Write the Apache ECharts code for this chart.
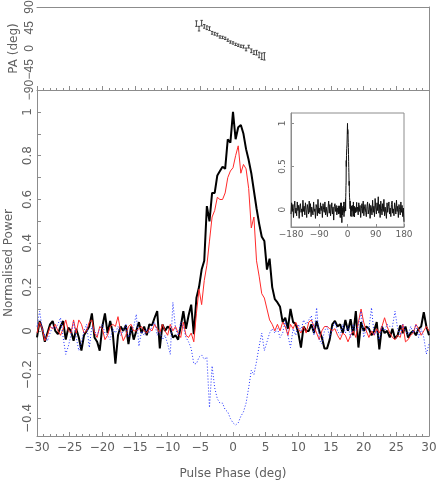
<!DOCTYPE html>
<html><head><meta charset="utf-8">
<script src="https://cdn.jsdelivr.net/npm/echarts@6/dist/echarts.min.js"></script>
<style>html,body{margin:0;padding:0;background:#fff}#c{width:436px;height:480px}</style>
</head><body><div id="c"></div>
<script>
// ---- data ----
const phaseStart = -30, phaseStep = 0.4;
const totalPower = [
 -0.03,0.045,0.01,-0.05,-0.01,0.03,0.045,0.0,-0.015,0.02,
 0.045,-0.04,0.015,0.0,-0.045,0.01,-0.03,-0.09,-0.02,0.0,
 0.02,0.08,-0.03,-0.05,-0.09,0.02,0.08,-0.01,0.045,-0.01,
 -0.15,-0.02,0.02,0.0,0.025,-0.06,0.02,-0.04,0.0,0.04,
 -0.01,0.02,-0.02,0.03,0.025,0.06,0.09,-0.08,0.03,0.0,
 0.02,0.01,-0.03,-0.02,-0.04,0.02,0.09,0.01,0.07,0.12,
 -0.015,0.15,0.2,0.28,0.32,0.57,0.5,0.63,0.63,0.71,
 0.73,0.75,0.74,0.875,0.86,1.0,0.875,0.93,0.94,0.9,
 0.83,0.78,0.72,0.64,0.56,0.49,0.43,0.41,0.28,0.33,
 0.2,0.145,0.13,0.11,0.04,0.06,0.01,0.1,0.04,0.03,
 -0.01,-0.076,0.02,0.0,0.0,0.03,-0.01,0.045,0.0,-0.03,
 -0.08,-0.08,-0.04,0.03,0.046,0.02,0.03,-0.01,0.05,0.0,
 0.053,-0.02,0.09,-0.076,0.04,0.0,0.02,0.01,-0.02,0.0,
 0.04,-0.084,0.02,-0.01,0.0,-0.03,0.01,-0.035,-0.02,0.025,
 -0.01,0.02,-0.03,-0.01,0.0,-0.02,0.01,0.02,0.085,0.02,
 -0.02];
const linearPol = [
 -0.01,0.04,0.01,-0.045,-0.02,0.02,0.01,0.03,0.0,-0.02,
 0.01,0.05,0.0,-0.01,0.05,-0.01,0.05,0.03,-0.01,0.0,
 0.04,0.05,-0.01,-0.03,0.02,0.01,-0.04,-0.02,0.02,0.03,
 0.02,0.065,0.0,-0.045,-0.02,0.02,0.03,0.0,0.0,0.01,
 0.02,0.0,-0.01,0.01,0.0,0.03,0.01,-0.01,0.03,0.0,
 -0.02,0.03,0.0,0.02,-0.01,-0.03,0.04,-0.02,-0.03,-0.01,
 -0.05,0.08,0.19,0.12,0.23,0.3,0.41,0.52,0.55,0.61,
 0.6,0.6,0.63,0.7,0.73,0.745,0.8,0.845,0.72,0.76,
 0.74,0.65,0.47,0.52,0.32,0.25,0.17,0.15,0.1,0.05,
 0.03,0.0,0.03,0.0,0.04,0.02,-0.02,0.03,0.01,0.04,
 0.01,-0.01,0.02,-0.01,0.04,0.05,0.02,-0.01,-0.04,0.0,
 0.02,0.02,0.01,0.0,0.01,-0.02,-0.04,-0.01,-0.02,-0.05,
 -0.02,0.0,-0.03,0.04,0.1,0.04,0.0,-0.03,0.0,-0.02,
 0.01,-0.01,0.02,0.06,0.02,-0.01,-0.03,-0.04,-0.02,-0.03,
 0.03,-0.05,-0.04,-0.02,-0.01,0.03,0.01,-0.02,0.0,0.02,
 0.0];
const circularPol = [
 0.02,0.09,0.01,-0.02,-0.046,-0.01,0.02,0.01,0.03,0.06,
 -0.03,-0.107,-0.07,-0.02,0.04,-0.03,-0.09,-0.05,0.0,0.03,
 -0.076,0.02,0.0,-0.02,0.01,0.03,-0.01,-0.02,-0.04,0.01,
 -0.01,0.02,-0.02,0.0,0.03,-0.03,0.0,0.02,0.076,-0.07,
 0.0,-0.02,0.01,-0.01,0.02,0.04,-0.02,0.0,-0.04,-0.02,
 -0.06,-0.107,0.13,0.01,-0.02,0.04,0.02,-0.03,-0.05,-0.08,
 -0.15,-0.15,-0.12,-0.11,-0.13,-0.12,-0.35,-0.16,-0.26,-0.31,
 -0.33,-0.33,-0.36,-0.37,-0.4,-0.42,-0.43,-0.42,-0.39,-0.37,
 -0.33,-0.26,-0.18,-0.2,-0.14,-0.07,-0.01,-0.09,-0.05,-0.01,
 0.01,-0.01,0.01,-0.03,-0.01,0.046,-0.02,-0.076,0.01,-0.02,
 0.03,0.0,0.05,0.03,0.05,0.07,-0.02,0.106,-0.04,-0.06,
 0.0,0.02,-0.03,0.01,0.04,0.0,-0.02,0.03,-0.01,0.02,
 -0.03,0.03,0.0,0.02,0.09,-0.03,0.01,0.01,0.106,-0.02,
 0.0,-0.04,0.02,0.0,0.03,0.02,0.02,0.09,0.01,-0.02,
 0.03,0.0,-0.02,0.02,-0.01,0.03,-0.03,0.01,-0.03,-0.106,
 -0.06];
const paStart = -5.6;
const paValues = [54,43,55,48,45,43,34,32,30,25,24,22,18,14,12,9,7,5,4,-2,4,-5,-9,-9,-14,-17,-17];
const paErrors = [6,5,6,4,4,4,3,3,3,2.5,2.5,2.5,2.5,2.5,2.5,2.5,2.5,2.5,3,3,3,4,4,5,6,7,8];
const insetStep = 2, insetLeftStart = -180, insetRightStart = 32;
const insetLeftNoise = [-0.05,0.08,-0.02,0.06,-0.09,0.03,0.1,-0.04,0.02,-0.07,
 0.09,-0.01,0.05,-0.1,0.04,0.07,-0.03,0.01,-0.08,0.11,
 -0.02,0.04,-0.06,0.08,0.0,-0.09,0.06,0.02,-0.05,0.1,
 -0.03,0.07,-0.08,0.03,0.05,-0.06,0.09,-0.02,0.01,-0.1,
 0.06,0.03,-0.07,0.12,-0.04,0.02,-0.05,0.08,-0.01,0.04,
 -0.09,0.07,0.0,-0.03,0.09,-0.06,0.03,0.05,-0.08,0.02,
 0.1,-0.04,0.06,-0.07,0.01,0.08,-0.05,0.03,-0.12,0.04,
 0.07,-0.02,0.05,-0.06,0.02];
const insetRightNoise = [0.03,-0.06,0.08,-0.02,0.05,-0.09,0.01,0.07,-0.04,0.1,
 -0.07,0.02,0.06,-0.03,-0.08,0.04,0.09,-0.05,0.0,0.07,
 -0.1,0.05,0.02,-0.06,0.11,-0.03,0.04,-0.08,0.13,0.02,
 -0.05,0.08,-0.01,0.15,-0.04,0.06,-0.09,0.1,0.01,-0.06,
 0.07,-0.02,0.12,-0.07,0.03,0.05,-0.1,0.08,-0.03,0.04,
 0.09,-0.05,0.02,-0.08,0.06,0.1,-0.04,0.01,-0.07,0.08,
 0.03,-0.05,0.11,-0.02,0.04,-0.09,0.06,0.0,-0.06,0.09,
 -0.03,0.05,-0.08,0.02,-0.14];
const paLabels = [-90,-45,0,45,90];
const mainYLabels = [-0.4,-0.2,0,0.2,0.4,0.6,0.8,1];
const mainYTicks = [-0.4,-0.3,-0.2,-0.1,0,0.1,0.2,0.3,0.4,0.5,0.6,0.7,0.8,0.9,1];
const insetYLabels = [0,0.5,1];

// ---- build ----
const withPhase = arr => arr.map((v, i) => [+(phaseStart + i * phaseStep).toFixed(2), v]);
const insetData = []
  .concat(insetLeftNoise.map((v, i) => [insetLeftStart + i * insetStep, v]))
  .concat(withPhase(totalPower))
  .concat(insetRightNoise.map((v, i) => [insetRightStart + i * insetStep, v]));
const paData = paValues.map((v, i) => [+(paStart + i * phaseStep).toFixed(2), v, paErrors[i]]);

const FONT = 'DejaVu Sans';
const TXT = '#606060';
const LINE = '#8c8c8c';
const fmt = v => String(v).replace('-', '\u2212');
const lineAx = { show: true, onZero: false, lineStyle: { color: LINE, width: 1 } };
const noLine = { show: false, onZero: false };

const chart = echarts.init(document.getElementById('c'), null, { renderer: 'canvas' });
chart.setOption({
  animation: false,
  backgroundColor: '#fff',
  grid: [
    { left: 37, right: 7, top: 7, height: 83, outerBoundsMode: 'none', containLabel: false },
    { left: 37, right: 7, top: 90, bottom: 44, outerBoundsMode: 'none', containLabel: false },
    { left: 291, width: 113, top: 113, height: 114, outerBoundsMode: 'none', containLabel: false,
      show: true, backgroundColor: '#fff', borderColor: LINE, borderWidth: 1 }
  ],
  xAxis: [
    { gridIndex: 0, type: 'value', position: 'bottom', min: -30, max: 30, interval: 5,
      axisLine: lineAx, axisTick: { show: true, inside: true, length: 4, lineStyle: { color: LINE } },
      minorTick: { show: true, splitNumber: 5, length: 2, lineStyle: { color: LINE } },
      axisLabel: { show: false }, splitLine: { show: false } },
    { gridIndex: 0, type: 'value', position: 'top', min: -30, max: 30, interval: 5,
      axisLine: lineAx, axisTick: { show: false }, axisLabel: { show: false }, splitLine: { show: false } },
    { gridIndex: 1, type: 'value', position: 'bottom', min: -30, max: 30, interval: 5,
      axisLine: lineAx, axisTick: { show: true, inside: true, length: 4, lineStyle: { color: LINE } },
      minorTick: { show: true, splitNumber: 5, length: 2, lineStyle: { color: LINE } },
      axisLabel: { color: TXT, fontFamily: FONT, fontSize: 12, margin: 6, formatter: fmt, showMinLabel: true, showMaxLabel: true },
      splitLine: { show: false },
      name: 'Pulse Phase (deg)', nameLocation: 'middle', nameGap: 32, nameMoveOverlap: false,
      nameTextStyle: { color: TXT, fontFamily: FONT, fontSize: 12 } },
    { gridIndex: 2, type: 'value', min: -180, max: 180, interval: 90,
      axisLine: lineAx, axisTick: { show: true, inside: true, length: 3, lineStyle: { color: LINE } },
      axisLabel: { color: TXT, fontFamily: FONT, fontSize: 9, margin: 3, formatter: fmt, showMinLabel: true, showMaxLabel: true },
      splitLine: { show: false } }
  ],
  yAxis: [
    { gridIndex: 0, type: 'value', position: 'left', min: -90, max: 90,
      axisLine: noLine, axisTick: { show: false }, splitLine: { show: false },
      axisLabel: { color: TXT, fontFamily: 'Liberation Sans', fontSize: 12, rotate: 90, margin: 1, formatter: fmt,
        customValues: paLabels, showMinLabel: true, showMaxLabel: true, hideOverlap: false },
      name: 'PA (deg)', nameLocation: 'middle', nameGap: 17, nameMoveOverlap: false,
      nameTextStyle: { color: TXT, fontFamily: FONT, fontSize: 12 } },
    { gridIndex: 0, type: 'value', position: 'right', min: -90, max: 90,
      axisLine: lineAx, axisTick: { show: false }, axisLabel: { show: false }, splitLine: { show: false } },
    { gridIndex: 1, type: 'value', position: 'left', min: -0.48, max: 1.1,
      axisLine: lineAx,
      axisTick: { show: true, inside: true, length: 4, customValues: mainYTicks, lineStyle: { color: LINE } },
      axisLabel: { color: TXT, fontFamily: FONT, fontSize: 12, rotate: 90, margin: 3, customValues: mainYLabels, formatter: fmt },
      splitLine: { show: false },
      name: 'Normalised Power', nameLocation: 'middle', nameGap: 22, nameMoveOverlap: false,
      nameTextStyle: { color: TXT, fontFamily: FONT, fontSize: 12 } },
    { gridIndex: 1, type: 'value', position: 'right', min: -0.48, max: 1.1,
      axisLine: lineAx, axisTick: { show: false }, axisLabel: { show: false }, splitLine: { show: false } },
    { gridIndex: 2, type: 'value', min: -0.2, max: 1.12,
      axisLine: lineAx,
      axisTick: { show: true, inside: true, length: 3, customValues: insetYLabels, lineStyle: { color: LINE } },
      axisLabel: { color: TXT, fontFamily: FONT, fontSize: 9, rotate: 90, margin: 4, customValues: insetYLabels, formatter: fmt },
      splitLine: { show: false } }
  ],
  series: [
    { type: 'custom', xAxisIndex: 0, yAxisIndex: 0, data: paData,
      renderItem: function (params, api) {
        const x = api.value(0), y = api.value(1), e = api.value(2);
        const t = api.coord([x, y + e]), b = api.coord([x, y - e]);
        const s = { stroke: '#444', lineWidth: 1 };
        return { type: 'group', children: [
          { type: 'line', shape: { x1: t[0], y1: t[1], x2: b[0], y2: b[1] }, style: s },
          { type: 'line', shape: { x1: t[0] - 1.2, y1: t[1], x2: t[0] + 1.2, y2: t[1] }, style: s },
          { type: 'line', shape: { x1: b[0] - 1.2, y1: b[1], x2: b[0] + 1.2, y2: b[1] }, style: s }
        ] };
      } },
    { type: 'line', xAxisIndex: 2, yAxisIndex: 2, data: withPhase(totalPower), showSymbol: false, symbol: 'none',
      lineStyle: { color: '#000', width: 2 }, z: 3 },
    { type: 'line', xAxisIndex: 2, yAxisIndex: 2, data: withPhase(linearPol), showSymbol: false, symbol: 'none',
      lineStyle: { color: '#ff2a2a', width: 1 }, z: 4 },
    { type: 'line', xAxisIndex: 2, yAxisIndex: 2, data: withPhase(circularPol), showSymbol: false, symbol: 'none',
      lineStyle: { color: '#2030ff', width: 1, type: [1, 2] }, z: 5 },
    { type: 'line', xAxisIndex: 3, yAxisIndex: 4, data: insetData, showSymbol: false, symbol: 'none',
      lineStyle: { color: '#111', width: 1 }, z: 6 }
  ]
});
</script></body></html>
